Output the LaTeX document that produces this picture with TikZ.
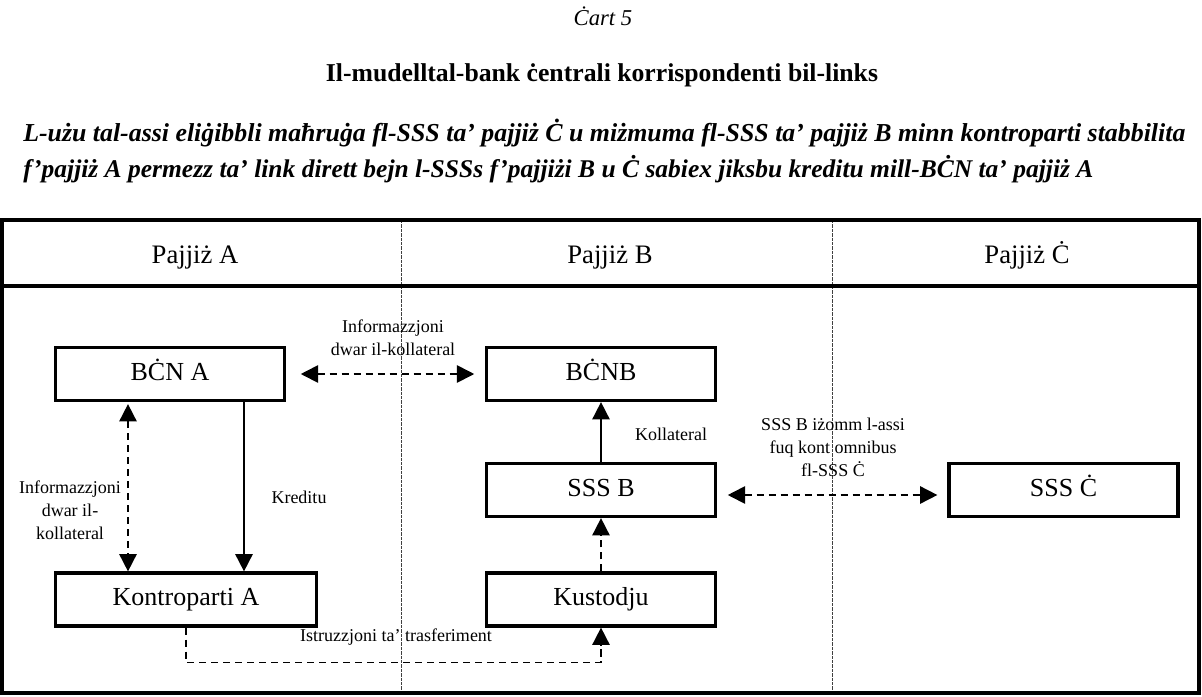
\documentclass[tikz,border=0pt]{standalone}
\usepackage{fontspec}
\setmainfont{Liberation Serif}
\usetikzlibrary{arrows.meta,calc}
\begin{document}
\begin{tikzpicture}[x=0.75pt,y=-0.75pt,
 mybox/.style={draw,line width=2.4pt,minimum width=171.75pt,minimum height=39.75pt,inner sep=0pt,text height=13pt,text depth=4pt,font=\fontsize{19.5}{22}\selectfont},
 hdr/.style={anchor=base,font=\fontsize{20}{24}\selectfont},
 lbl/.style={font=\fontsize{13.5}{17.25}\selectfont,align=center,inner sep=0pt},
 tip/.style={-{Triangle[length=13pt,width=13pt]}},
 bitip/.style={{Triangle[length=13pt,width=13pt]}-{Triangle[length=13pt,width=13pt]}},
 dashln/.style={line width=1.3pt,dash pattern=on 5.5pt off 3.5pt},
 solidln/.style={line width=1.3pt},
 divider/.style={line width=0.6pt,dash pattern=on 2.5pt off 0.8pt,black!75},
 frame/.style={line width=2.3pt}]
\useasboundingbox (0,0) rectangle (1202,696);
% titles
\node[font=\fontsize{17}{20}\selectfont\itshape] (cart) at (603,16) {Ċart 5};
\node[inner sep=0pt] (head) at (602,75) {\resizebox{414pt}{!}{\bfseries Il-mudelltal-bank ċentrali korrispondenti bil-links}};
\node[anchor=west,inner sep=0pt] (l1) at (23,133) {\resizebox{871.5pt}{!}{\bfseries\itshape L-użu tal-assi eliġibbli maħruġa fl-SSS ta’ pajjiż Ċ u miżmuma fl-SSS ta’ pajjiż B minn kontroparti stabbilita}};
\node[anchor=west,inner sep=0pt] (l2) at (23,169) {\resizebox{802.5pt}{!}{\bfseries\itshape f’pajjiż A permezz ta’ link dirett bejn l-SSSs f’pajjiżi B u Ċ sabiex jiksbu kreditu mill-BĊN ta’ pajjiż A}};
% frame
\draw[divider] (401.5,220) -- (401.5,693);
\draw[divider] (832,220) -- (832,693);
\draw[frame] (2,220) rectangle (1199,693);
\draw[frame] (2,286) -- (1199,286);
\node[hdr] (pa) at (195,263) {Pajjiż A};
\node[hdr] (pb) at (610,263) {Pajjiż B};
\node[hdr] (pc) at (1027,263) {Pajjiż Ċ};
% boxes
\node[mybox] (bcna) at (170,374) {BĊN A};
\node[mybox] (bcnb) at (601,374) {BĊNB};
\node[mybox] (sssb) at (601,490) {SSS B};
\node[mybox] (sssc) at (1063.5,490) {SSS Ċ};
\node[mybox,minimum width=195.75pt] (kont) at (186,599.5) {Kontroparti A};
\node[mybox] (kust) at (601,599.5) {Kustodju};
% connectors
\draw[dashln,bitip,shorten <=11pt,shorten >=8pt] (bcna.east) -- (bcnb.west);
\draw[dashln,bitip,shorten <=1.5pt] ($(bcna.south)+(-42,0)$) -- ($(kont.north)+(-58,0)$);
\draw[solidln,tip] ($(bcna.south)+(74,0)$) -- ($(kont.north)+(58,0)$);
\draw[dashln,tip] (kont.south) -- ++(0,35) -| (kust.south);
\draw[dashln,tip] (kust.north) -- (sssb.south);
\draw[solidln,tip] (sssb.north) -- (bcnb.south);
\draw[dashln,bitip,shorten <=8pt,shorten >=7.5pt] ([yshift=-3.75pt]sssb.east) -- ([yshift=-3.75pt]sssc.west);
% labels
\node[lbl] (linfo1) at (393,338) {Informazzjoni\\dwar il-kollateral};
\node[lbl] (linfo2) at (70,510) {Informazzjoni\\dwar il-\\kollateral};
\node[lbl] (lkred) at (299,497) {Kreditu};
\node[lbl] (lkoll) at (671,434) {Kollateral};
\node[lbl] (lsss) at (833,447) {SSS B iżomm l-assi\\fuq kont omnibus\\fl-SSS Ċ};
\node[lbl] (listr) at (396,637) {Istruzzjoni ta’ trasferiment};
\end{tikzpicture}
\end{document}
